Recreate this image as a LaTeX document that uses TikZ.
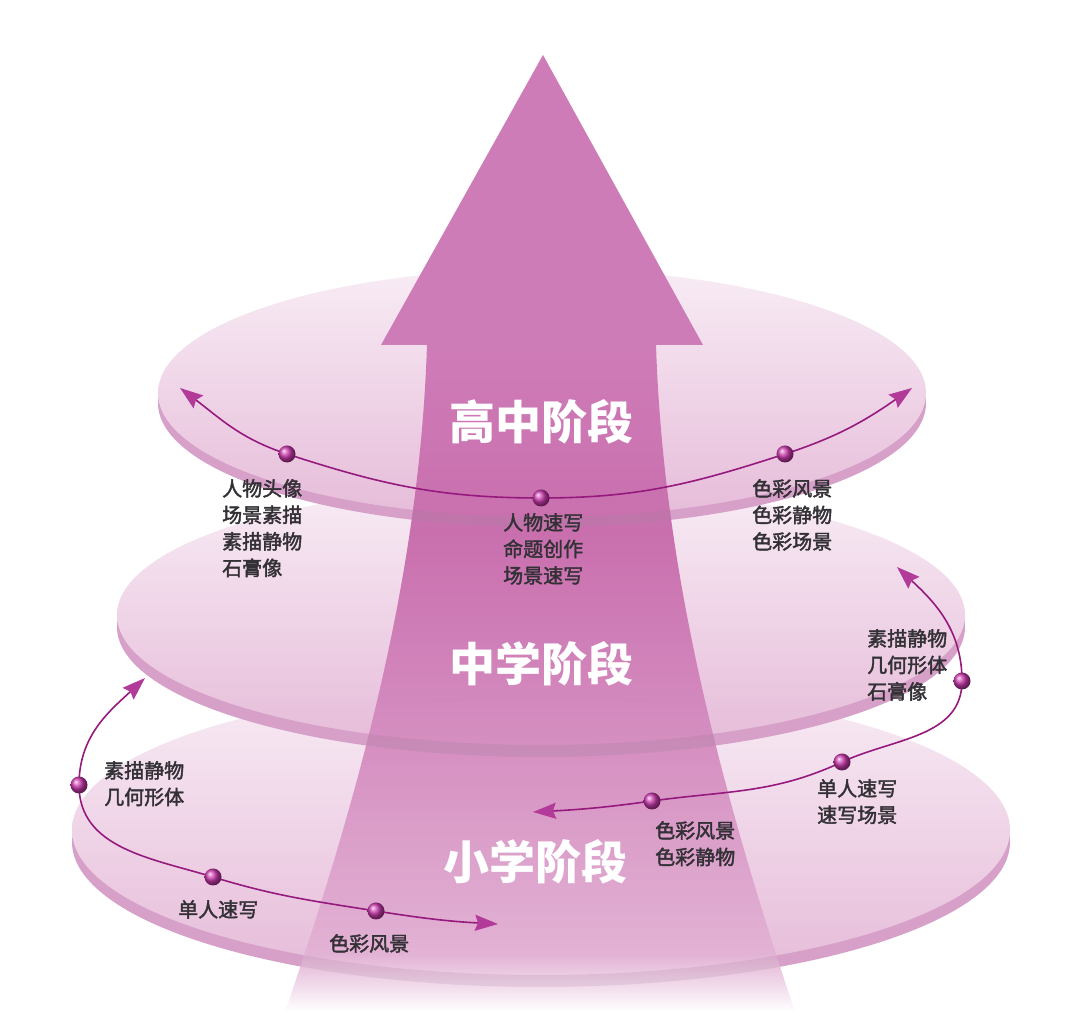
\documentclass[tikz,border=0pt]{standalone}
\usepackage{fontspec}
\setmainfont{Noto Sans CJK SC}
\newfontfamily\lblfont[FakeBold=2]{Noto Sans CJK SC}
\usetikzlibrary{arrows.meta}
\definecolor{headc}{HTML}{CE7CB8}
\definecolor{shafttop}{HTML}{C96FAE}
\definecolor{shaftmid}{HTML}{D48CBF}
\definecolor{shaftlow}{HTML}{E2B2D4}
\definecolor{fadec}{HTML}{FFFFFF}
\definecolor{disctop}{HTML}{F8ECF5}
\definecolor{discbot}{HTML}{E6BCD9}
\definecolor{rimc}{HTML}{D6A0C8}
\definecolor{linec}{HTML}{961A7E}
\definecolor{tipc}{HTML}{B23A98}
\definecolor{ballc}{HTML}{CC3AAE}
\definecolor{txtc}{HTML}{333036}
\pgfdeclareverticalshading{shaftfade}{100bp}{color(0bp)=(fadec); color(25bp)=(fadec); color(28bp)=(shaftlow); color(40bp)=(shaftmid); color(50bp)=(shafttop); color(60bp)=(headc); color(100bp)=(headc)}
\def\shaftpath{(427,675) -- (381,675) -- (543,965) -- (703,675) -- (656,675) .. controls (663,460) and (714,250) .. (795,8) -- (285,8) .. controls (368,250) and (420,460) .. (427,675) -- cycle}

\begin{document}
\begin{tikzpicture}[x=1pt, y=1pt,
  lbl/.style={anchor=north west, align=left, inner sep=0pt, text=txtc, font=\fontsize{20}{26.5}\lblfont},
  stage/.style={inner sep=0pt, text=white, font=\fontsize{46}{46}\selectfont\bfseries},
  track/.style={draw=linec, line width=1.6pt, {Stealth[length=23pt,width=16pt,inset=3pt,color=tipc]}-{Stealth[length=23pt,width=16pt,inset=3pt,color=tipc]}},
  surf/.style={top color=disctop, bottom color=discbot}]
\fill[white] (0,0) rectangle (1080,1020);
\useasboundingbox (0,0) rectangle (1080,1020);

% discs, bottom first
\fill[rimc] (541,178) ellipse [x radius=469, y radius=145];
\shade[surf] (541,190) ellipse [x radius=469, y radius=145];
\fill[rimc] (541,393) ellipse [x radius=424, y radius=130];
\shade[surf] (541,405) ellipse [x radius=424, y radius=130];
\fill[rimc] (542,617) ellipse [x radius=384, y radius=124];
\shade[surf] (542,627) ellipse [x radius=384, y radius=124];

% big arrow
\shade[shading=shaftfade] \shaftpath;
\begin{scope}
\clip \shaftpath;
\begin{scope}
\clip (542,617) ellipse [x radius=384, y radius=124];
\fill[rimc!80!black, opacity=0.3, even odd rule] (542,617) ellipse [x radius=384, y radius=124] (542,627) ellipse [x radius=384, y radius=124];
\end{scope}
\begin{scope}
\clip (541,393) ellipse [x radius=424, y radius=130];
\fill[rimc!80!black, opacity=0.3, even odd rule] (541,393) ellipse [x radius=424, y radius=130] (541,405) ellipse [x radius=424, y radius=130];
\end{scope}
\begin{scope}
\clip (541,178) ellipse [x radius=469, y radius=145];
\fill[rimc!80!black, opacity=0.2, even odd rule] (541,178) ellipse [x radius=469, y radius=145] (541,190) ellipse [x radius=469, y radius=145];
\end{scope}
\end{scope}

\node[stage] (high) at (541,598) {高中阶段};
\node[stage] (mid) at (541,356) {中学阶段};
\node[stage] (low) at (535,158) {小学阶段};

% top ring
\coordinate (tl) at (180,632);
\coordinate (t1) at (287,566);
\coordinate (t2) at (541,522);
\coordinate (t3) at (785,566);
\coordinate (tr) at (912,632);
\draw[track] (tl) to[out=-37,in=162] (t1) to[out=-18,in=180] (t2) to[out=0,in=198] (t3) to[out=18,in=215] (tr);

% middle ring
\coordinate (ms) at (897,453);
\coordinate (m1) at (962,339);
\coordinate (m2) at (842,258);
\coordinate (m3) at (652,219);
\coordinate (me) at (533,208);
\draw[track] (ms) to[out=-43,in=90] (m1) to[out=-90,in=25] (m2) to[out=-155,in=8] (m3) to[out=-172,in=3] (me);

% bottom ring
\coordinate (bs) at (145,342);
\coordinate (b1) at (79,235);
\coordinate (b2) at (213,143);
\coordinate (b3) at (376,109);
\coordinate (be) at (498,96);
\draw[track] (bs) to[out=-137,in=90] (b1) to[out=-90,in=163] (b2) to[out=-17,in=171] (b3) to[out=-9,in=177] (be);

\foreach \d in {t1,t2,t3,m1,m2,m3,b1,b2,b3}
  \shade[ball color=ballc] (\d) circle [radius=8.5];

\node[lbl] (ta) at (222,541) {人物头像\\场景素描\\素描静物\\石膏像};
\node[lbl] (tb) at (503,507) {人物速写\\命题创作\\场景速写};
\node[lbl] (tc) at (752,541) {色彩风景\\色彩静物\\色彩场景};
\node[lbl] (ma) at (867,391) {素描静物\\几何形体\\石膏像};
\node[lbl] (mb) at (817,241) {单人速写\\速写场景};
\node[lbl] (mc) at (655,199) {色彩风景\\色彩静物};
\node[lbl] (ba) at (104,259) {素描静物\\几何形体};
\node[lbl] (bb) at (178,120) {单人速写};
\node[lbl] (bc) at (329,86) {色彩风景};
\end{tikzpicture}
\end{document}
